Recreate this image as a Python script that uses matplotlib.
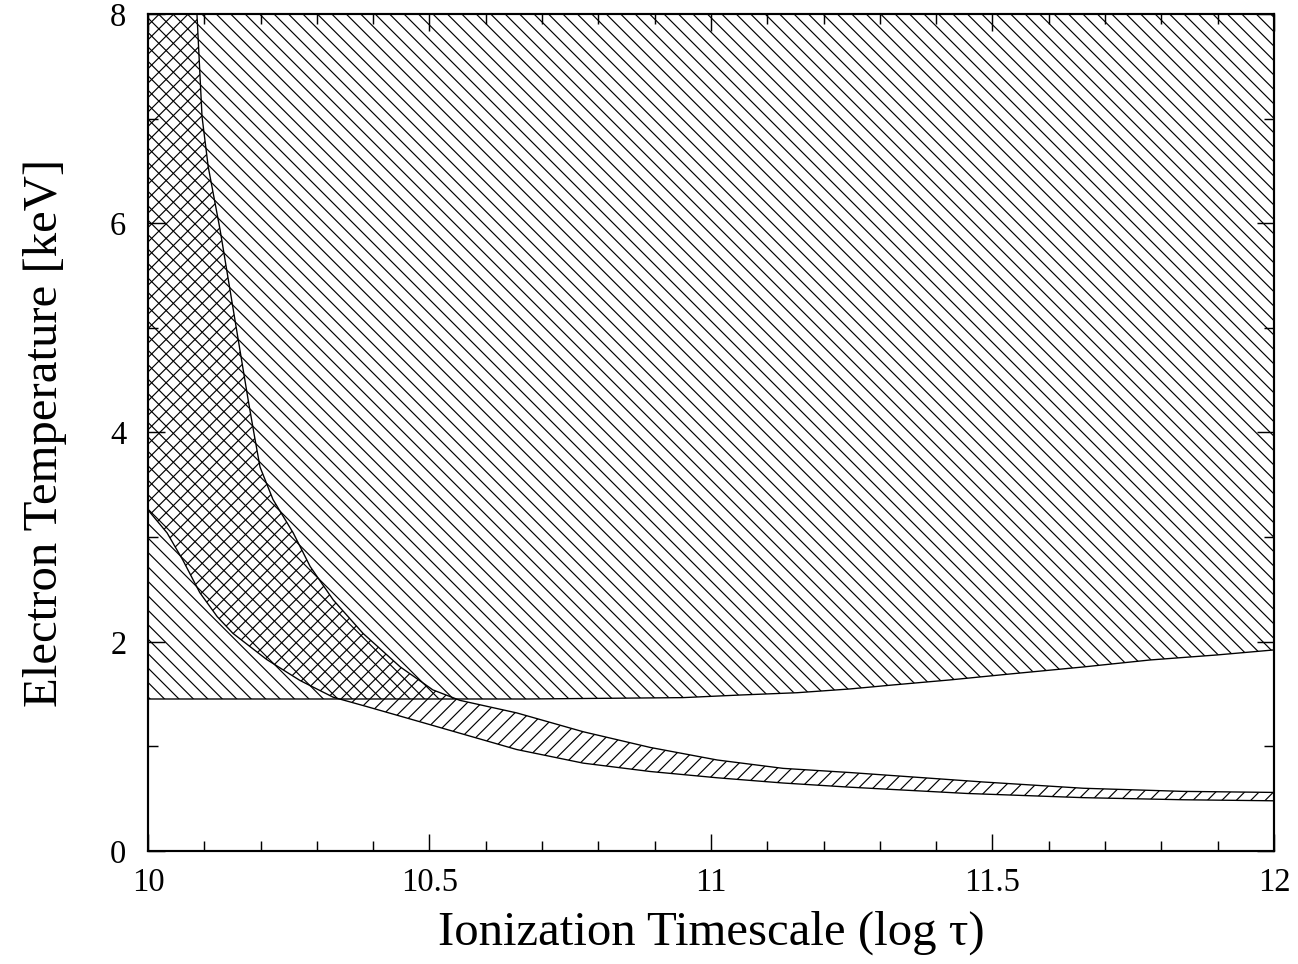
import matplotlib
matplotlib.use('Agg')
import matplotlib.pyplot as plt
from matplotlib.ticker import MultipleLocator

# allowed region from the temperature fit (lower edge, open to the top)
fit_x = [10.0, 10.2, 10.4, 10.6, 10.673, 10.95, 11.052, 11.153, 11.247, 11.323,
         11.424, 11.531, 11.661, 11.78, 11.899, 12.0]
fit_y = [1.453, 1.453, 1.453, 1.453, 1.453, 1.466, 1.491, 1.513, 1.549, 1.587,
         1.635, 1.692, 1.759, 1.826, 1.874, 1.922]

# band from the ionization constraint: upper edge
band_hi_x = [10.087, 10.096, 10.107, 10.128, 10.178, 10.188, 10.199, 10.222,
             10.258, 10.288, 10.329, 10.382, 10.448, 10.506, 10.554, 10.655,
             10.773, 10.892, 11.011, 11.128, 11.247, 11.483, 11.661, 11.838, 12.0]
band_hi_y = [8.0, 7.02, 6.54, 5.94, 4.31, 4.0, 3.67, 3.36,
             3.04, 2.72, 2.40, 2.08, 1.76, 1.54, 1.44, 1.32,
             1.14, 0.99, 0.87, 0.79, 0.75, 0.66, 0.60, 0.57, 0.56]

# band lower edge
band_lo_x = [10.0, 10.034, 10.062, 10.092, 10.123, 10.151, 10.211, 10.27,
             10.329, 10.389, 10.506, 10.655, 10.773, 10.892, 11.011, 11.128,
             11.247, 11.455, 11.661, 11.838, 12.0]
band_lo_y = [3.26, 3.04, 2.78, 2.47, 2.24, 2.08, 1.83, 1.63,
             1.47, 1.38, 1.20, 0.97, 0.84, 0.76, 0.70, 0.65,
             0.61, 0.55, 0.51, 0.49, 0.48]

XMIN, XMAX = 10, 12
YMIN, YMAX = 0, 8

plt.rcParams['font.family'] = ['Liberation Serif', 'DejaVu Serif']
plt.rcParams['hatch.linewidth'] = 0.65
plt.rcParams['hatch.color'] = 'black'

fig = plt.figure(figsize=(1298 / 130, 964 / 130), dpi=130)
ax = fig.add_axes([0.1140, 0.1172, 0.8675, 0.8683])

# region 1, hatched one way
ax.fill_between(fit_x, fit_y, YMAX, facecolor='none', edgecolor='black',
                hatch='\\\\\\', linewidth=0)
ax.plot(fit_x, fit_y, color='black', lw=0.75)

# region 2, the band, hatched the other way (crosshatch where they overlap)
poly_x = band_lo_x + band_hi_x[::-1] + [XMIN]
poly_y = band_lo_y + band_hi_y[::-1] + [YMAX]
ax.fill(poly_x, poly_y, facecolor='none', edgecolor='black', hatch='///',
        linewidth=0)
ax.plot(band_hi_x, band_hi_y, color='black', lw=0.75)
ax.plot(band_lo_x, band_lo_y, color='black', lw=0.75)

ax.set_xlim(XMIN, XMAX)
ax.set_ylim(YMIN, YMAX)

ax.xaxis.set_major_locator(MultipleLocator(0.5))
ax.xaxis.set_minor_locator(MultipleLocator(0.1))
ax.yaxis.set_major_locator(MultipleLocator(2))
ax.yaxis.set_minor_locator(MultipleLocator(1))
ax.set_xticks([10, 10.5, 11, 11.5, 12])
ax.set_xticklabels(['10', '10.5', '11', '11.5', '12'])

ax.tick_params(which='both', direction='in', top=True, right=True,
               width=0.8, labelsize=18)
ax.tick_params(which='major', length=9.5)
ax.tick_params(which='minor', length=5.5)
ax.tick_params(axis='x', pad=9)
ax.tick_params(axis='y', pad=12)
for s in ax.spines.values():
    s.set_linewidth(1.2)

ax.set_xlabel('Ionization Timescale (log τ)', fontsize=27, labelpad=7)
ax.set_ylabel('Electron Temperature [keV]', fontsize=27, labelpad=24)

fig.savefig('out.png', dpi=130)
